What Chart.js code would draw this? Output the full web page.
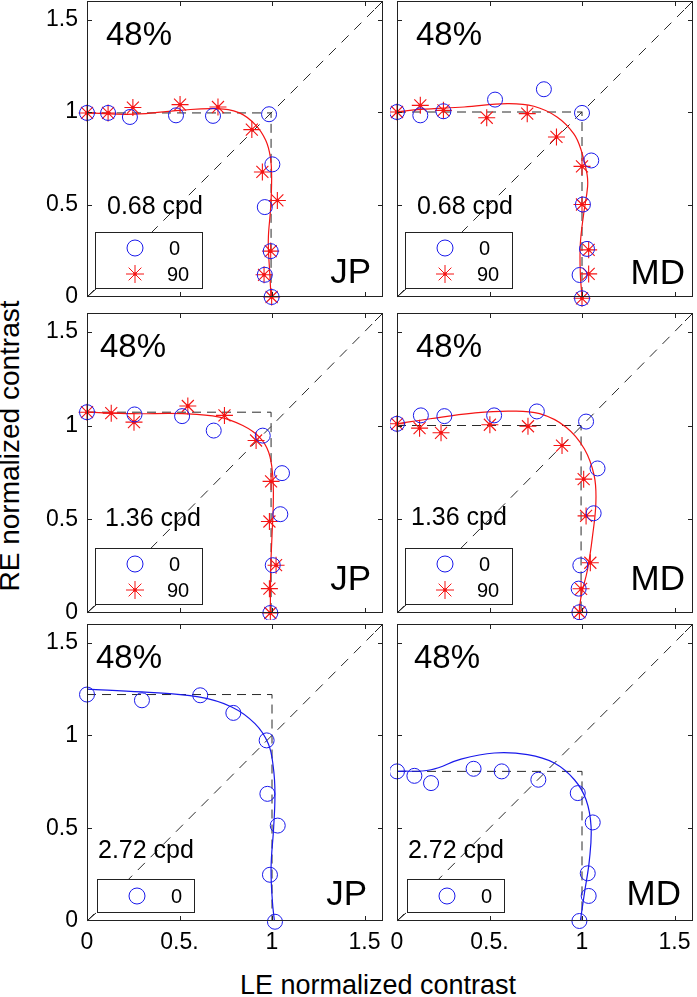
<!DOCTYPE html>
<html>
<head>
<meta charset="utf-8">
<script src="https://cdn.jsdelivr.net/npm/chart.js@4.4.1/dist/chart.umd.min.js"></script>
<style>
body { margin: 0; background: #fff; }
#fig { position: relative; width: 697px; height: 997px; overflow: hidden; font-family: "Liberation Sans", Arial, sans-serif; color: #000; }
.panel { position: absolute; }
.ytitle { position: absolute; left: 10px; top: 446px; transform: translate(-50%, -50%) rotate(-90deg); font-size: 28px; line-height: 1; white-space: nowrap; }
.xtitle { position: absolute; left: 378px; top: 972px; transform: translateX(-50%); font-size: 27px; line-height: 1; white-space: nowrap; }
</style>
</head>
<body>
<div id="fig">
  <div class="ytitle">RE normalized contrast</div>
  <div class="xtitle">LE normalized contrast</div>
</div>
<script>
// tick values / labels
const tickValues = [0, 0.5, 1, 1.5];
const xTickLabels = ['0', '0.5.', '1', '1.5'];
const yTickLabels = ['0', '0.5', '1', '1.5'];

// panel text
const pctLabel = '48%';
const freqLabels = ['0.68 cpd', '0.68 cpd', '1.36 cpd', '1.36 cpd', '2.72 cpd', '2.72 cpd'];
const observers = ['JP', 'MD', 'JP', 'MD', 'JP', 'MD'];
const legendNames = ['0', '90'];

// corner of the dashed "L" (LE, RE)
const cornerLE = [0.995, 1.0, 0.995, 0.995, 1.0, 1.0];
const cornerRE = [0.995, 1.0, 1.071, 1.0, 1.22, 0.806];
const diagonal = [[0, 0], [1.6, 1.6]];

// JP 0.68 cpd
const jp068Circles = [[0,0.995],[0.114,0.995],[0.232,0.973],[0.481,0.982],[0.681,0.979],[0.984,0.988],[1.002,0.717],[0.961,0.486],[0.993,0.248],[0.961,0.12],[0.998,0.0]];
const jp068Stars = [[0,0.995],[0.114,0.995],[0.248,1.024],[0.503,1.04],[0.708,1.027],[0.891,0.905],[0.948,0.676],[1.029,0.522],[0.993,0.248],[0.957,0.12],[0.998,0.0]];
const jp068Fit = [[0,0.995],[0.253,0.988],[0.503,1.009],[0.699,1.018],[0.824,0.995],[0.913,0.928],[0.966,0.847],[0.991,0.757],[0.998,0.649],[0.993,0.486],[0.98,0.306],[0.988,0.125],[0.995,0]];

// MD 0.68 cpd
const md068Circles = [[0,1.0],[0.126,0.982],[0.251,1.004],[0.53,1.067],[0.794,1.123],[1.0,0.995],[1.05,0.738],[1.005,0.5],[1.027,0.26],[0.987,0.119],[1.0,-0.007]];
const md068Stars = [[0,1.0],[0.126,1.036],[0.251,1.009],[0.485,0.969],[0.704,0.991],[0.862,0.865],[1.0,0.706],[1.0,0.5],[1.036,0.255],[1.036,0.125],[1.0,-0.007]];
const md068Fit = [[0,1.0],[0.129,1.014],[0.363,1.027],[0.596,1.045],[0.74,1.031],[0.865,0.973],[0.955,0.883],[0.996,0.792],[1.027,0.666],[1.03,0.594],[1.009,0.449],[0.991,0.287],[0.991,0.125],[1.0,0]];

// JP 1.36 cpd
const jp136Circles = [[0,1.071],[0.257,1.059],[0.514,1.05],[0.685,0.973],[0.95,0.946],[1.054,0.746],[1.045,0.527],[1.004,0.255],[0.991,0]];
const jp136Stars = [[0,1.071],[0.131,1.066],[0.254,1.018],[0.545,1.104],[0.743,1.054],[0.914,0.92],[0.995,0.702],[0.986,0.488],[1.022,0.255],[0.986,0.13],[0.991,0]];
const jp136Fit = [[0,1.071],[0.248,1.063],[0.518,1.063],[0.716,1.045],[0.842,1.0],[0.932,0.938],[0.982,0.857],[1.004,0.732],[1.007,0.589],[1.0,0.411],[0.993,0.232],[0.991,0]];

// MD 1.36 cpd
const md136Circles = [[0,1.009],[0.129,1.054],[0.256,1.05],[0.525,1.054],[0.756,1.075],[1.022,1.021],[1.084,0.771],[1.063,0.532],[0.991,0.254],[0.982,0.13],[0.986,0.004]];
const md136Stars = [[0,1.009],[0.122,0.986],[0.238,0.961],[0.502,1.004],[0.708,0.996],[0.892,0.893],[1.009,0.714],[1.022,0.518],[1.045,0.268],[0.995,0.129],[0.986,0.004]];
const md136Fit = [[0,1.009],[0.179,1.036],[0.412,1.066],[0.609,1.077],[0.771,1.063],[0.914,0.991],[1.013,0.875],[1.066,0.732],[1.075,0.589],[1.057,0.411],[1.03,0.232],[0.995,0.089],[0.986,0.004]];

// JP 2.72 cpd
const jp272Circles = [[0,1.22],[0.297,1.189],[0.612,1.216],[0.791,1.121],[0.971,0.973],[0.975,0.685],[1.031,0.514],[0.989,0.249],[1.016,-0.004]];
const jp272Fit = [[0,1.249],[0.297,1.234],[0.603,1.207],[0.782,1.153],[0.908,1.063],[0.98,0.955],[1.007,0.829],[1.016,0.685],[1.009,0.505],[0.995,0.288],[1.002,0.108],[1.013,0]];

// MD 2.72 cpd
const md272Circles = [[0,0.806],[0.094,0.782],[0.184,0.743],[0.414,0.82],[0.566,0.806],[0.764,0.761],[0.977,0.689],[1.058,0.531],[1.031,0.257],[1.036,0.135],[0.986,0]];
const md272Fit = [[0,0.806],[0.184,0.815],[0.346,0.872],[0.526,0.905],[0.706,0.896],[0.85,0.851],[0.959,0.761],[1.022,0.653],[1.049,0.509],[1.04,0.329],[1.013,0.149],[0.991,0]];

const BLUE = 'rgb(25,25,235)';
const RED = 'rgb(245,20,20)';
const DASH = '#2a2a2a';
const FONT = '"Liberation Sans", Arial, sans-serif';

const panels = [
  { col: 0, row: 0, circles: jp068Circles, stars: jp068Stars, fit: jp068Fit, fitColor: RED, pctDx: 19, freqDx: 20, freqDy: 83, obsDx: 12, obsDy: 14 },
  { col: 1, row: 0, circles: md068Circles, stars: md068Stars, fit: md068Fit, fitColor: RED, pctDx: 19, freqDx: 20, freqDy: 83, obsDx: 8, obsDy: 13 },
  { col: 0, row: 1, circles: jp136Circles, stars: jp136Stars, fit: jp136Fit, fitColor: RED, pctDx: 13, freqDx: 18, freqDy: 87, obsDx: 12, obsDy: 23 },
  { col: 1, row: 1, circles: md136Circles, stars: md136Stars, fit: md136Fit, fitColor: RED, pctDx: 19, freqDx: 14, freqDy: 88, obsDx: 8, obsDy: 23 },
  { col: 0, row: 2, circles: jp272Circles, stars: null, fit: jp272Fit, fitColor: BLUE, pctDx: 9, freqDx: 11, freqDy: 63, obsDx: 16, obsDy: 16 },
  { col: 1, row: 2, circles: md272Circles, stars: null, fit: md272Fit, fitColor: BLUE, pctDx: 17, freqDx: 11, freqDy: 63, obsDx: 12, obsDy: 16 }
];

// frames per column / row
const colFrames = [{ left: 0, width: 390, padL: 0, padR: 7 }, { left: 390, width: 307, padL: 7, padR: 4 }];
const rowFrames = [{ top: 0, height: 307, padT: 1, padB: 10 }, { top: 303, height: 317, padT: 10, padB: 7 }, { top: 614, height: 383, padT: 10, padB: 0 }];

const toXY = arr => arr.map(([x, y]) => ({ x, y }));

const panelDecor = {
  id: 'panelDecor',
  afterDraw(chart) {
    const p = chart.options.plugins.panelDecor;
    const { ctx, chartArea: a } = chart;
    const xs = chart.scales.x, ys = chart.scales.y;
    ctx.save();
    ctx.strokeStyle = '#222';
    ctx.lineWidth = 1;
    ctx.strokeRect(Math.round(a.left) + 0.5, Math.round(a.top) + 0.5, Math.round(a.width) - 1, Math.round(a.height) - 1);
    ctx.beginPath();
    tickValues.forEach(v => {
      if (v === 0) return;
      const px = Math.round(xs.getPixelForValue(v)) + 0.5;
      ctx.moveTo(px, a.bottom); ctx.lineTo(px, a.bottom - 5);
      ctx.moveTo(px, a.top); ctx.lineTo(px, a.top + 5);
      const py = Math.round(ys.getPixelForValue(v)) + 0.5;
      ctx.moveTo(a.left, py); ctx.lineTo(a.left + 5, py);
      ctx.moveTo(a.right, py); ctx.lineTo(a.right - 5, py);
    });
    ctx.moveTo(a.left, a.bottom); ctx.lineTo(a.left + 9, a.bottom - 8);
    ctx.moveTo(a.right, a.top); ctx.lineTo(a.right - 8, a.top + 8);
    ctx.stroke();

    // legend box
    const two = p.items === 2;
    const lw = two ? 107 : 97, lh = two ? 56 : 33;
    const lx = a.left + (two ? 8 : 10), ly = a.bottom - 9 - lh;
    ctx.fillStyle = '#fff';
    ctx.fillRect(lx, ly, lw, lh);
    ctx.strokeRect(Math.round(lx) + 0.5, Math.round(ly) + 0.5, lw, lh);
    ctx.fillStyle = 'rgba(0,0,0,0)';
    ctx.strokeStyle = BLUE;
    Chart.helpers.drawPoint(ctx, { pointStyle: 'circle', radius: 8, borderWidth: 1, rotation: 0 }, lx + 40, ly + (two ? 16 : 17));
    ctx.fillStyle = '#000';
    ctx.font = '20px ' + FONT;
    ctx.textBaseline = 'middle';
    ctx.textAlign = 'left';
    ctx.fillText(legendNames[0], lx + 74, ly + (two ? 17 : 18));
    if (two) {
      ctx.strokeStyle = RED;
      ctx.fillStyle = 'rgba(0,0,0,0)';
      Chart.helpers.drawPoint(ctx, { pointStyle: 'star', radius: 9, borderWidth: 1, rotation: 0 }, lx + 40, ly + 42);
      ctx.fillStyle = RED;
      Chart.helpers.drawPoint(ctx, { pointStyle: 'circle', radius: 1.8, borderWidth: 0, rotation: 0 }, lx + 40, ly + 42);
      ctx.fillStyle = '#000';
      ctx.fillText(legendNames[1], lx + 72, ly + 43);
    }

    // texts
    ctx.textBaseline = 'alphabetic';
    ctx.font = '33px ' + FONT;
    ctx.fillText(pctLabel, a.left + p.pctDx, a.top + 44);
    ctx.font = '25px ' + FONT;
    ctx.fillText(p.freq, a.left + p.freqDx, a.bottom - p.freqDy);
    ctx.font = '35px ' + FONT;
    ctx.textAlign = 'right';
    ctx.fillText(p.obs, a.right - p.obsDx, a.bottom - p.obsDy);
    ctx.restore();
  }
};

const zeroPad = s => { s.paddingTop = 0; s.paddingBottom = 0; s.paddingLeft = 0; s.paddingRight = 0; };

const fig = document.getElementById('fig');

panels.forEach((p, i) => {
  const cf = colFrames[p.col], rf = rowFrames[p.row];
  const box = document.createElement('div');
  box.className = 'panel';
  box.style.left = cf.left + 'px';
  box.style.top = rf.top + 'px';
  box.style.width = cf.width + 'px';
  box.style.height = rf.height + 'px';
  const canvas = document.createElement('canvas');
  box.appendChild(canvas);
  fig.appendChild(box);

  const showY = p.col === 0;
  const showX = p.row === 2;

  const datasets = [];
  datasets.push({ data: toXY(p.circles), pointStyle: 'circle', pointRadius: 7.5, borderColor: BLUE, backgroundColor: 'rgba(0,0,0,0)', pointBorderWidth: 1, showLine: false, clip: false, order: 0 });
  if (p.stars) {
    datasets.push({ data: toXY(p.stars), pointStyle: 'star', pointRadius: 8.5, borderColor: RED, backgroundColor: 'rgba(0,0,0,0)', pointBorderWidth: 1.1, showLine: false, clip: false, order: 0 });
    datasets.push({ data: toXY(p.stars), pointStyle: 'circle', pointRadius: 1.8, borderWidth: 0, backgroundColor: RED, showLine: false, clip: false, order: 0 });
  }
  datasets.push({ data: toXY(p.fit), showLine: true, tension: 0.4, borderColor: p.fitColor, borderWidth: 1.2, pointRadius: 0, order: 1 });
  datasets.push({ data: toXY([[0, cornerRE[i]], [cornerLE[i], cornerRE[i]], [cornerLE[i], 0]]), showLine: true, borderColor: DASH, borderWidth: 1, borderDash: [9, 6], pointRadius: 0, order: 2 });
  datasets.push({ data: toXY(diagonal), showLine: true, borderColor: DASH, borderWidth: 1, borderDash: [10, 8], pointRadius: 0, order: 2 });

  new Chart(canvas.getContext('2d'), {
    type: 'scatter',
    data: { datasets },
    options: {
      responsive: true,
      maintainAspectRatio: false,
      animation: false,
      devicePixelRatio: 1,
      layout: { autoPadding: false, padding: { left: cf.padL, right: cf.padR, top: rf.padT, bottom: rf.padB } },
      plugins: {
        legend: { display: false },
        tooltip: { enabled: false },
        panelDecor: { items: p.stars ? 2 : 1, freq: freqLabels[i], obs: observers[i], pctDx: p.pctDx, freqDx: p.freqDx, freqDy: p.freqDy, obsDx: p.obsDx, obsDy: p.obsDy }
      },
      scales: {
        x: {
          type: 'linear', min: 0, max: 1.6, display: showX,
          grid: { display: false, drawTicks: false },
          border: { display: false },
          afterBuildTicks: s => { s.ticks = tickValues.map(v => ({ value: v })); },
          afterFit: s => { zeroPad(s); if (showX) s.height = 76; },
          ticks: { autoSkip: false, maxRotation: 0, padding: 8, color: '#000', font: { family: FONT, size: 23 }, callback: (v, idx) => xTickLabels[idx] }
        },
        y: {
          type: 'linear', min: 0, max: 1.6, display: showY,
          grid: { display: false, drawTicks: false },
          border: { display: false },
          afterBuildTicks: s => { s.ticks = tickValues.map(v => ({ value: v })); },
          afterFit: s => { zeroPad(s); if (showY) s.width = 87; },
          ticks: { autoSkip: false, padding: 9, color: '#000', font: { family: FONT, size: 23 }, callback: (v, idx) => yTickLabels[idx] }
        }
      }
    },
    plugins: [panelDecor]
  });
});
</script>
</body>
</html>
